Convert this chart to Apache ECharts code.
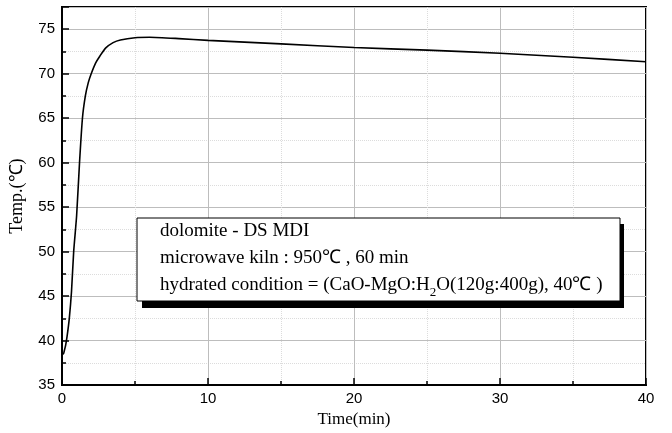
<!DOCTYPE html>
<html>
<head>
<meta charset="utf-8">
<script src="https://cdn.jsdelivr.net/npm/echarts@6/dist/echarts.min.js"></script>
<style>
  html, body { margin: 0; padding: 0; background: #fff; }
  #chart { width: 672px; height: 433px; }
</style>
</head>
<body>
<div id="chart"></div>
<script>
// time (min) and temperature (C)
var timeMin = [0, 0.1, 0.15, 0.25, 0.35, 0.5, 0.65, 0.8, 1.0, 1.2, 1.4, 1.6, 1.8, 2.0, 2.3, 2.6, 3.0, 3.5, 4.0, 5.0, 6.0, 8, 10, 15, 20, 25, 30, 35, 40];
var tempC = [38.5, 38.5, 38.8, 39.5, 40.5, 42.5, 45.5, 50, 54, 60, 65, 67.5, 69, 70, 71.2, 72, 72.9, 73.5, 73.8, 74.05, 74.1, 73.95, 73.75, 73.35, 72.95, 72.65, 72.3, 71.85, 71.35];

var xTicks = [0, 10, 20, 30, 40];
var yTicks = [35, 40, 45, 50, 55, 60, 65, 70, 75];

var noteLines = [
  'dolomite - DS MDI',
  'microwave kiln : 950\u2103 , 60 min',
  'hydrated condition = (CaO-MgO:H{sub|2}O(120g:400g), 40\u2103 )'
];

var points = timeMin.map(function (t, i) { return [t, tempC[i]]; });

var chart = echarts.init(document.getElementById('chart'));

var option = {
  animation: false,
  grid: {
    left: 62, right: 26, top: 7, bottom: 44,
    show: true, borderColor: '#000', borderWidth: 2,
    containLabel: false
  },
  xAxis: {
    type: 'value',
    min: xTicks[0], max: xTicks[xTicks.length - 1], interval: 10,
    name: 'Time(min)',
    nameLocation: 'middle',
    nameGap: 24,
    nameTextStyle: { fontFamily: 'Liberation Serif', fontSize: 17, color: '#000' },
    axisLine: { lineStyle: { color: '#000', width: 2 } },
    axisTick: { inside: true, length: 7, lineStyle: { color: '#000', width: 1.5 } },
    minorTick: { show: true, splitNumber: 2, length: 4, lineStyle: { color: '#000', width: 1.5 } },
    axisLabel: { fontFamily: 'Liberation Sans', fontSize: 15, color: '#000', margin: 6 },
    splitLine: { show: true, lineStyle: { color: '#bdbdbd', width: 1 } },
    minorSplitLine: { show: true, lineStyle: { color: '#dcdcdc', width: 1, type: 'dotted' } }
  },
  yAxis: {
    type: 'value',
    min: 35, max: 77.5, interval: 5,
    name: 'Temp.(\u2103)',
    nameLocation: 'middle',
    nameGap: 36,
    nameTextStyle: { fontFamily: 'Liberation Serif', fontSize: 18, color: '#000' },
    axisLine: { lineStyle: { color: '#000', width: 2 } },
    axisTick: { inside: true, length: 7, lineStyle: { color: '#000', width: 1.5 } },
    minorTick: { show: true, splitNumber: 2, length: 4, lineStyle: { color: '#000', width: 1.5 } },
    axisLabel: {
      fontFamily: 'Liberation Sans', fontSize: 15, color: '#000', margin: 7,
      formatter: function (v) { return yTicks.indexOf(v) >= 0 ? String(v) : ''; }
    },
    splitLine: { show: true, lineStyle: { color: '#bdbdbd', width: 1 } },
    minorSplitLine: { show: true, lineStyle: { color: '#dcdcdc', width: 1, type: 'dotted' } }
  },
  series: [{
    type: 'line',
    data: points,
    showSymbol: false,
    smooth: 0.2,
    lineStyle: { color: '#000', width: 1.6 },
    z: 3
  }],
  graphic: [
    { type: 'rect', z: 10, shape: { x: 142, y: 224, width: 482, height: 84 }, style: { fill: '#000' } },
    { type: 'rect', z: 11, shape: { x: 137, y: 218, width: 483, height: 83 }, style: { fill: '#fff', stroke: '#000', lineWidth: 1 } },
    {
      type: 'text', z: 12, x: 160, y: 218,
      style: {
        text: noteLines.join('\n'),
        fontFamily: 'Liberation Serif', fontSize: 19, lineHeight: 27, fill: '#000',
        rich: {
          sub: { fontFamily: 'Liberation Serif', fontSize: 13, lineHeight: 27, verticalAlign: 'bottom', fill: '#000' }
        }
      }
    }
  ]
};
chart.setOption(option);
</script>
</body>
</html>
